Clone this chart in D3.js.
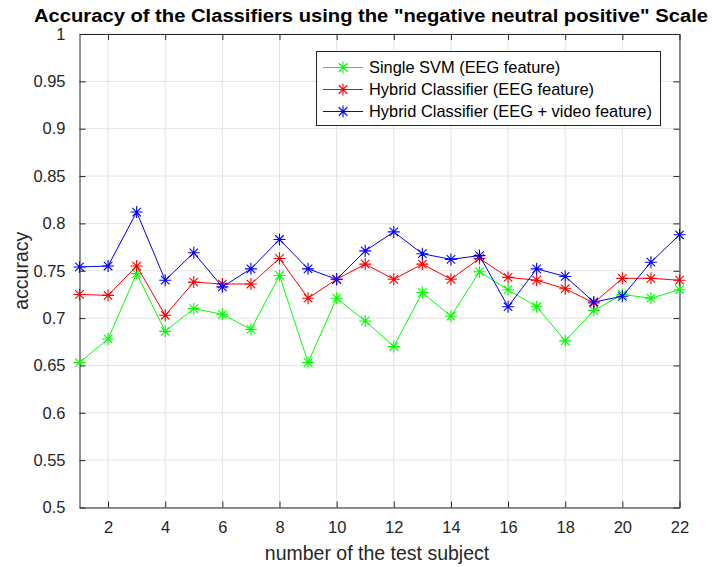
<!DOCTYPE html>
<html>
<head>
<meta charset="utf-8">
<script src="https://cdn.jsdelivr.net/npm/d3@7/dist/d3.min.js"></script>
<style>
  html, body { margin: 0; padding: 0; background: #fff; }
  svg { display: block; font-family: "Liberation Sans", Arial, Helvetica, sans-serif; }
</style>
</head>
<body>
<svg id="chart" width="712" height="567"></svg>
<script>
// Test subjects 1..22
const subjects = d3.range(1, 23);

// Accuracy per subject for each classifier
const svmEEG = [0.653, 0.678, 0.747, 0.686, 0.710, 0.704, 0.688, 0.745, 0.653, 0.721, 0.697,
                0.670, 0.727, 0.702, 0.749, 0.730, 0.712, 0.676, 0.708, 0.725, 0.721, 0.730];
const hybridEEG = [0.725, 0.724, 0.755, 0.703, 0.738, 0.736, 0.736, 0.763, 0.721, 0.741, 0.757,
                   0.741, 0.757, 0.741, 0.763, 0.743, 0.740, 0.731, 0.716, 0.742, 0.742, 0.740];
const hybridEEGVideo = [0.754, 0.755, 0.812, 0.740, 0.769, 0.733, 0.752, 0.783, 0.752, 0.741, 0.771,
                        0.791, 0.768, 0.762, 0.766, 0.712, 0.752, 0.744, 0.717, 0.723, 0.759, 0.788];

const seriesNames = ["Single SVM (EEG feature)", "Hybrid Classifier (EEG feature)",
                     "Hybrid Classifier (EEG + video feature)"];
const seriesColors = ["#00ff00", "#ff0000", "#0000ff"];

const xTicks = [2, 4, 6, 8, 10, 12, 14, 16, 18, 20, 22];
const yTicks = [0.5, 0.55, 0.6, 0.65, 0.7, 0.75, 0.8, 0.85, 0.9, 0.95, 1];

const titleText = 'Accuracy of the Classifiers using the "negative neutral positive" Scale';
const xLabel = "number of the test subject";
const yLabel = "accuracy";

const series = [svmEEG, hybridEEG, hybridEEGVideo].map((vals, i) => ({
  name: seriesNames[i], color: seriesColors[i],
  points: subjects.map((s, j) => ({ x: s, y: vals[j] }))
}));

const svg = d3.select("#chart");
const plotL = 79.5, plotR = 679.5, plotT = 34, plotB = 507.5;
const axisColor = "#262626";

const x = d3.scaleLinear().domain([1, 22]).range([plotL, plotR]);
const y = d3.scaleLinear().domain([0.5, 1]).range([plotB, plotT]);

// Grid
const grid = svg.append("g");
grid.selectAll(".gx").data(xTicks).join("line")
  .attr("x1", d => x(d)).attr("x2", d => x(d)).attr("y1", plotT).attr("y2", plotB)
  .attr("stroke", "#e3e3e3").attr("stroke-width", 1);
grid.selectAll(".gy").data(yTicks).join("line")
  .attr("x1", plotL).attr("x2", plotR).attr("y1", d => y(d)).attr("y2", d => y(d))
  .attr("stroke", "#e3e3e3").attr("stroke-width", 1);

// Axes with inward ticks on all sides
const tickLen = 6;
const fmtY = d => String(+d.toFixed(2));
const bottomAxis = d3.axisBottom(x).tickValues(xTicks).tickSizeInner(-tickLen).tickSizeOuter(0).tickPadding(14);
const topAxis = d3.axisTop(x).tickValues(xTicks).tickSizeInner(-tickLen).tickSizeOuter(0).tickFormat("");
const leftAxis = d3.axisLeft(y).tickValues(yTicks).tickSizeInner(-tickLen).tickSizeOuter(0).tickPadding(14).tickFormat(fmtY);
const rightAxis = d3.axisRight(y).tickValues(yTicks).tickSizeInner(-tickLen).tickSizeOuter(0).tickFormat("");

function styleAxis(g) {
  g.selectAll("path").attr("stroke", axisColor).attr("stroke-width", 1);
  g.selectAll("line").attr("stroke", axisColor).attr("stroke-width", 1);
  g.selectAll("text").attr("fill", axisColor).style("font-size", "16.5px")
    .style("font-family", '"Liberation Sans", Arial, sans-serif');
}
svg.append("g").attr("transform", `translate(0,${plotB})`).call(bottomAxis).call(styleAxis);
svg.append("g").attr("transform", `translate(0,${plotT})`).call(topAxis).call(styleAxis);
svg.append("g").attr("transform", `translate(${plotL},0)`).call(leftAxis).call(styleAxis);
svg.append("g").attr("transform", `translate(${plotR},0)`).call(rightAxis).call(styleAxis);

// Lines and asterisk markers
const line = d3.line().x(d => x(d.x)).y(d => y(d.y));
const star = (g, cx, cy, r, color) => {
  const d = r * 0.707;
  const p = `M${cx - r},${cy}L${cx + r},${cy}M${cx},${cy - r}L${cx},${cy + r}` +
            `M${cx - d},${cy - d}L${cx + d},${cy + d}M${cx - d},${cy + d}L${cx + d},${cy - d}`;
  g.append("path").attr("d", p).attr("stroke", color).attr("stroke-width", 1.1).attr("fill", "none");
};

series.forEach(s => {
  const g = svg.append("g");
  g.append("path").datum(s.points).attr("d", line)
    .attr("fill", "none").attr("stroke", s.color).attr("stroke-width", 1);
  s.points.forEach(p => star(g, x(p.x), y(p.y), 6, s.color));
});

// Legend
const lg = svg.append("g");
lg.append("rect").attr("x", 316.5).attr("y", 51.5).attr("width", 344).attr("height", 74)
  .attr("fill", "#fff").attr("stroke", axisColor).attr("stroke-width", 1);
series.forEach((s, i) => {
  const ry = 67.5 + i * 22;
  lg.append("line").attr("x1", 323).attr("x2", 363).attr("y1", ry).attr("y2", ry)
    .attr("stroke", s.color).attr("stroke-width", 1);
  star(lg, 343, ry, 6, s.color);
  lg.append("text").attr("x", 369).attr("y", ry + 5.8).text(s.name)
    .attr("fill", "#000").style("font-size", "16.4px");
});

// Title and axis labels
svg.append("text").attr("x", 371).attr("y", 21.5).attr("text-anchor", "middle")
  .attr("font-weight", "bold").style("font-size", "17.5px").attr("fill", "#000")
  .attr("textLength", 674).attr("lengthAdjust", "spacingAndGlyphs").text(titleText);
svg.append("text").attr("x", 377).attr("y", 560).attr("text-anchor", "middle")
  .style("font-size", "19.5px").attr("fill", axisColor).text(xLabel);
svg.append("text").attr("transform", `translate(28,${(plotT + plotB) / 2}) rotate(-90)`)
  .attr("text-anchor", "middle").style("font-size", "19.5px").attr("fill", axisColor).text(yLabel);
</script>
</body>
</html>
